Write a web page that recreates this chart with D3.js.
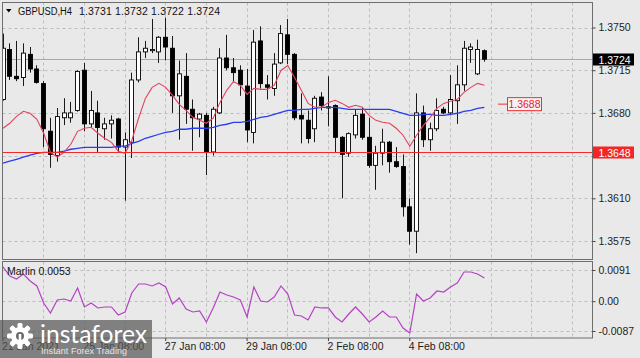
<!DOCTYPE html>
<html><head><meta charset="utf-8">
<script src="https://cdn.jsdelivr.net/npm/d3@7"></script>
<style>
html,body{margin:0;padding:0;background:#e9e9e9;}
svg{display:block;font-family:"Liberation Sans",Arial,sans-serif;}
</style></head><body>
<svg id="c" width="640" height="358"></svg>
<script>
// ---- data ----
const symbolTitle = "GBPUSD,H4";
const ohlcTitle = "1.3731 1.3732 1.3722 1.3724";
const indicatorTitle = "Marlin 0.0053";
const opens = [1.3691,1.3732,1.3710,1.3709,1.3728,1.3716,1.3704,1.3665,1.3645,1.3676,
1.3676,1.3682,1.3715,1.3671,1.3680,1.3667,1.3671,1.3675,1.3652,1.3656,
1.3707,1.3730,1.3731,1.3730,1.3742,1.3733,1.3694,1.3710,1.3683,1.3675,
1.3678,1.3648,1.3680,1.3725,1.3717,1.3715,1.3702,1.3664,1.3739,1.3703,
1.3700,1.3721,1.3744,1.3728,1.3678,1.3674,1.3667,1.3693,1.3685,1.3686,
1.3660,1.3647,1.3662,1.3679,1.3660,1.3637,1.3647,1.3656,1.3640,1.3636,
1.3603,1.3583,1.3680,1.3658,1.3667,1.3683,1.3680,1.3690,1.3703,1.3732,
1.3712,1.3731];
const highs = [1.3745,1.3737,1.3739,1.3737,1.3734,1.3719,1.3706,1.3676,1.3684,1.3692,
1.3689,1.3715,1.3721,1.3698,1.3690,1.3676,1.3678,1.3676,1.3664,1.3713,
1.3742,1.3739,1.3757,1.3743,1.3758,1.3743,1.3723,1.3729,1.3691,1.3680,
1.3680,1.3685,1.3733,1.3744,1.3725,1.3719,1.3716,1.3748,1.3751,1.3711,
1.3729,1.3752,1.3757,1.3729,1.3696,1.3682,1.3694,1.3697,1.3710,1.3687,
1.3661,1.3664,1.3683,1.3684,1.3676,1.3653,1.3667,1.3657,1.3652,1.3646,
1.3610,1.3696,1.3686,1.3672,1.3692,1.3685,1.3711,1.3719,1.3739,1.3737,
1.3740,1.3732];
const lows = [1.3690,1.3707,1.3706,1.3702,1.3713,1.3704,1.3652,1.3635,1.3640,1.3670,
1.3672,1.3681,1.3665,1.3668,1.3648,1.3658,1.3659,1.3648,1.3608,1.3643,
1.3705,1.3725,1.3729,1.3721,1.3723,1.3680,1.3658,1.3671,1.3649,1.3660,
1.3629,1.3645,1.3679,1.3715,1.3705,1.3694,1.3656,1.3655,1.3700,1.3691,
1.3694,1.3720,1.3720,1.3674,1.3655,1.3655,1.3656,1.3682,1.3669,1.3648,
1.3610,1.3644,1.3659,1.3658,1.3635,1.3617,1.3637,1.3631,1.3635,1.3595,
1.3572,1.3565,1.3652,1.3649,1.3665,1.3679,1.3678,1.3671,1.3698,1.3721,
1.3711,1.3722];
const closes = [1.3733,1.3710,1.3708,1.3729,1.3716,1.3705,1.3667,1.3646,1.3677,1.3680,
1.3680,1.3714,1.3671,1.3682,1.3668,1.3671,1.3674,1.3652,1.3658,1.3707,
1.3730,1.3733,1.3732,1.3742,1.3734,1.3694,1.3712,1.3683,1.3676,1.3679,
1.3648,1.3683,1.3725,1.3717,1.3713,1.3703,1.3666,1.3738,1.3704,1.3701,
1.3720,1.3745,1.3728,1.3676,1.3675,1.3659,1.3692,1.3686,1.3684,1.3660,
1.3646,1.3663,1.3678,1.3660,1.3637,1.3647,1.3656,1.3640,1.3636,1.3603,
1.3583,1.3680,1.3658,1.3667,1.3682,1.3680,1.3691,1.3703,1.3733,1.3734,
1.3732,1.3724];
const maFast = [1.36674,1.36715,1.36772,1.36813,1.36797,1.36747,1.36633,1.36477,1.36437,1.36477,
1.36543,1.36649,1.36674,1.36682,1.36633,1.36592,1.36559,1.36486,1.36469,1.36576,
1.36756,1.36919,1.37009,1.37042,1.37009,1.36944,1.36870,1.36821,1.36764,1.36739,
1.36715,1.36756,1.36886,1.36985,1.37058,1.37026,1.36952,1.37001,1.36993,1.36993,
1.37026,1.37148,1.37189,1.37091,1.36985,1.36878,1.36846,1.36846,1.36886,1.36903,
1.36878,1.36846,1.36862,1.36846,1.36780,1.36739,1.36723,1.36715,1.36674,1.36617,
1.36527,1.36617,1.36698,1.36764,1.36837,1.36878,1.36895,1.36911,1.36968,1.37009,
1.37042,1.37026];
const maSlow = [1.36388,1.36404,1.36420,1.36437,1.36453,1.36469,1.36477,1.36477,1.36477,1.36486,
1.36502,1.36510,1.36518,1.36518,1.36518,1.36518,1.36518,1.36527,1.36527,1.36551,
1.36567,1.36592,1.36608,1.36625,1.36641,1.36649,1.36666,1.36666,1.36674,1.36674,
1.36674,1.36682,1.36698,1.36707,1.36723,1.36723,1.36731,1.36747,1.36764,1.36772,
1.36788,1.36805,1.36821,1.36821,1.36829,1.36829,1.36837,1.36846,1.36846,1.36846,
1.36837,1.36829,1.36829,1.36829,1.36829,1.36829,1.36829,1.36829,1.36813,1.36797,
1.36780,1.36780,1.36788,1.36788,1.36780,1.36780,1.36788,1.36797,1.36813,1.36821,
1.36837,1.36846];
const marlin = [0.00998,0.00735,0.00648,0.00794,0.00589,0.00444,-0.00053,-0.00344,0.00035,0.00064,
0.00006,0.00385,-0.00169,-0.00053,-0.00198,-0.00169,-0.00169,-0.00403,-0.00315,0.00239,
0.00502,0.00502,0.00444,0.00531,0.00414,-0.00082,0.00093,-0.00228,-0.00315,-0.00286,
-0.00607,-0.00198,0.00268,0.00181,0.00123,0.00035,-0.00461,0.00414,0.00006,-0.00023,
0.00123,0.00444,0.00210,-0.00403,-0.00432,-0.00549,-0.00169,-0.00198,-0.00198,-0.00461,
-0.00607,-0.00374,-0.00169,-0.00374,-0.00607,-0.00461,-0.00286,-0.00461,-0.00461,-0.00782,
-0.00928,0.00210,0.00006,0.00093,0.00298,0.00268,0.00414,0.00531,0.00852,0.00852,
0.00794,0.00677];
const priceTicks = [1.3750,1.3715,1.3680,1.3645,1.3610,1.3575];
const hiddenPriceLabels = [1.3645]; // covered by the support tag in the reference
const marlinTicks = [0.0091,0,-0.0087];
const marlinTickLabels = ["0.0091","0.00","-0.0087"];
const timeTickBars = [0,12,24,36,48,60];
const timeTickLabels = ["21 Jan 2021","25 Jan 08:00","27 Jan 08:00","29 Jan 08:00","2 Feb 08:00","4 Feb 08:00"];
const gridBars = [6,12,18,24,30,36,42,48,54,60,66,72,78,84];
const lastPrice = 1.3724;
const supportLevel = 1.3648;
const maLabelLevel = 1.3688;

// ---- layout ----
const L = 2.5, R = 592.5, T = 2.5, B = 259.5, T2 = 261.5, B2 = 338;
const svg = d3.select("#c");
const x = d3.scaleLinear().domain([0, 87]).range([2.5, 2.5 + 87 * 6.78]);
const y = d3.scaleLinear().domain([1.3575, 1.3750]).range([241, 27.5]);
const ym = d3.scaleLinear().domain([-0.0087, 0.0091]).range([331, 270]);
const fs = 10.5;

svg.append("rect").attr("width", 640).attr("height", 358).attr("fill", "#e9e9e9");

const defs = svg.append("defs");
defs.append("clipPath").attr("id", "cm").append("rect").attr("x", L).attr("y", T).attr("width", R - L).attr("height", B - T);
defs.append("clipPath").attr("id", "ci").append("rect").attr("x", L).attr("y", T2).attr("width", R - L).attr("height", B2 - T2);

// grid
const grid = svg.append("g").attr("stroke", "#bdbdbd").attr("stroke-dasharray", "3,3").attr("stroke-width", 1);
grid.selectAll(".hg").data(priceTicks).join("line")
  .attr("x1", L).attr("x2", R).attr("y1", d => Math.round(y(d)) + 0.5).attr("y2", d => Math.round(y(d)) + 0.5);
grid.selectAll(".vg").data(gridBars).join("line")
  .attr("x1", d => Math.round(x(d)) + 0.5).attr("x2", d => Math.round(x(d)) + 0.5).attr("y1", T).attr("y2", B);
grid.selectAll(".hg2").data(marlinTicks).join("line")
  .attr("x1", L).attr("x2", R).attr("y1", d => Math.round(ym(d)) + 0.5).attr("y2", d => Math.round(ym(d)) + 0.5);
grid.selectAll(".vg2").data(gridBars).join("line")
  .attr("x1", d => Math.round(x(d)) + 0.5).attr("x2", d => Math.round(x(d)) + 0.5).attr("y1", T2).attr("y2", B2);

// main panel content
const main = svg.append("g").attr("clip-path", "url(#cm)");
main.append("line").attr("x1", L).attr("x2", R)
  .attr("y1", Math.round(y(lastPrice)) + 0.5).attr("y2", Math.round(y(lastPrice)) + 0.5)
  .attr("stroke", "#a8a8a8").attr("stroke-width", 1);

const bars = d3.range(opens.length);
main.selectAll(".wick").data(bars).join("line")
  .attr("x1", i => Math.round(x(i)) + 0.5).attr("x2", i => Math.round(x(i)) + 0.5)
  .attr("y1", i => y(highs[i])).attr("y2", i => y(lows[i]))
  .attr("stroke", "#1a1a1a").attr("stroke-width", 1);
main.selectAll(".body").data(bars).join("rect")
  .attr("x", i => Math.round(x(i)) - 1.5).attr("width", 4)
  .attr("y", i => y(Math.max(opens[i], closes[i])))
  .attr("height", i => Math.max(1, Math.abs(y(opens[i]) - y(closes[i]))))
  .attr("fill", i => closes[i] >= opens[i] ? "#ffffff" : "#000000")
  .attr("stroke", "#000").attr("stroke-width", 0.9);

main.append("path").datum(maSlow)
  .attr("d", d3.line().x((d, i) => x(i) + 0.5).y(d => y(d)))
  .attr("fill", "none").attr("stroke", "#2b3cf0").attr("stroke-width", 1.3);
main.append("path").datum(maFast)
  .attr("d", d3.line().x((d, i) => x(i) + 0.5).y(d => y(d)))
  .attr("fill", "none").attr("stroke", "#e2425e").attr("stroke-width", 1.1);

main.append("line").attr("x1", L).attr("x2", R)
  .attr("y1", Math.round(y(supportLevel)) + 0.5).attr("y2", Math.round(y(supportLevel)) + 0.5)
  .attr("stroke", "#f22a2a").attr("stroke-width", 1.2);

const ay = y(maLabelLevel) + 1;
main.append("line").attr("x1", 498).attr("x2", 507).attr("y1", ay).attr("y2", ay).attr("stroke", "#f03030").attr("stroke-width", 1);
main.append("rect").attr("x", 507.5).attr("y", ay - 6.5).attr("width", 34).attr("height", 13)
  .attr("fill", "#f3f3f3").attr("stroke", "#f03030").attr("stroke-width", 1);
main.append("text").attr("x", 524.5).attr("y", ay + 4).attr("text-anchor", "middle")
  .attr("font-size", fs).attr("fill", "#f02020").text(d3.format(".4f")(maLabelLevel));

// indicator
const ind = svg.append("g").attr("clip-path", "url(#ci)");
ind.append("path").datum(marlin)
  .attr("d", d3.line().x((d, i) => x(i) + 0.5).y(d => ym(d)))
  .attr("fill", "none").attr("stroke", "#b443c4").attr("stroke-width", 1.2);

// borders
const border = svg.append("g").attr("fill", "none").attr("stroke", "#6e6e6e").attr("stroke-width", 1);
border.append("rect").attr("x", L).attr("y", T).attr("width", R - L).attr("height", B - T);
border.append("rect").attr("x", L).attr("y", T2).attr("width", R - L).attr("height", B2 - T2);

// axes
function styleAxis(g) {
  g.select(".domain").remove();
  g.selectAll(".tick line").attr("stroke", "#444");
  g.selectAll(".tick text").attr("fill", "#1e1e1e").attr("font-size", fs).attr("font-family", '"Liberation Sans",Arial,sans-serif');
}
const ya = svg.append("g").attr("transform", `translate(${R},0)`)
  .call(d3.axisRight(y).tickValues(priceTicks).tickSize(3).tickPadding(3).tickFormat(d3.format(".4f")))
  .call(styleAxis);
ya.selectAll(".tick").filter(d => hiddenPriceLabels.includes(d)).select("text").remove();
svg.append("g").attr("transform", `translate(${R},0)`)
  .call(d3.axisRight(ym).tickValues(marlinTicks).tickSize(3).tickPadding(3).tickFormat((d, i) => marlinTickLabels[i]))
  .call(styleAxis);
const xa = svg.append("g").attr("transform", `translate(0,${B2})`)
  .call(d3.axisBottom(x).tickValues(timeTickBars).tickSize(3).tickPadding(2).tickFormat((d, i) => timeTickLabels[i]))
  .call(styleAxis);
xa.selectAll(".tick text").attr("text-anchor", "start").attr("dx", "-1");

function axisTag(v, bg) {
  const yy = Math.round(y(v)) + 0.5;
  svg.append("rect").attr("x", R + 0.5).attr("y", yy - 6).attr("width", 41).attr("height", 12).attr("fill", bg);
  svg.append("text").attr("x", R + 6).attr("y", yy + 4).attr("font-size", fs).attr("fill", "#fff").text(d3.format(".4f")(v));
}
axisTag(lastPrice, "#000");
axisTag(supportLevel, "#f52525");

// titles
svg.append("path").attr("d", "M6,9 L11.5,9 L8.75,12.5 Z").attr("fill", "#000");
svg.append("text").attr("x", 18).attr("y", 14.5).attr("font-size", 10).attr("fill", "#111")
  .attr("textLength", 54).attr("lengthAdjust", "spacingAndGlyphs").text(symbolTitle);
svg.append("text").attr("x", 79).attr("y", 14.5).attr("font-size", fs).attr("fill", "#111")
  .attr("textLength", 141).text(ohlcTitle);
svg.append("text").attr("x", 7).attr("y", 275).attr("font-size", fs).attr("fill", "#111").text(indicatorTitle);

// watermark
const wm = svg.append("g");
wm.append("rect").attr("x", 0).attr("y", 320).attr("width", 152).attr("height", 38).attr("fill", "rgba(88,88,88,0.72)");
const gc = wm.append("g").attr("transform", "translate(20,336)").attr("fill", "#fff");
d3.range(8).forEach(k => {
  gc.append("rect").attr("x", -2.5).attr("y", -13).attr("width", 5).attr("height", 7).attr("rx", 1.5)
    .attr("transform", `rotate(${k * 45})`);
});
gc.append("circle").attr("r", 9);
gc.append("circle").attr("r", 4).attr("fill", "rgba(88,88,88,0.9)");
gc.append("rect").attr("x", -1.3).attr("y", -2).attr("width", 2.6).attr("height", 13).attr("fill", "#fff");
wm.append("text").attr("x", 40).attr("y", 343).attr("font-size", 25).attr("font-family", "Lato, 'Open Sans', sans-serif")
  .attr("fill", "#fff").attr("textLength", 107).attr("lengthAdjust", "spacingAndGlyphs").text("instaforex");
wm.append("text").attr("x", 41).attr("y", 354).attr("font-size", 9).attr("fill", "#e6e6e6")
  .attr("textLength", 86).text("Instant Forex Trading");
</script>
</body></html>
